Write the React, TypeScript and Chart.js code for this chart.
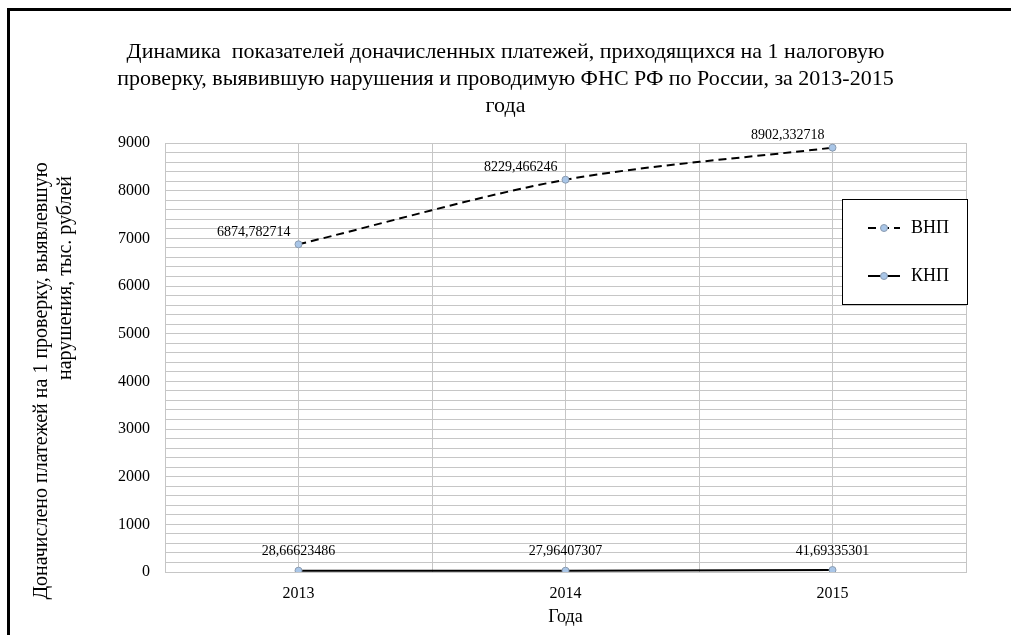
import React, { useEffect, useRef } from "react";
import { Chart, registerables } from "chart.js";

Chart.register(...registerables);

const categories = ["2013", "2014", "2015"];
const vnpValues = [6874.782714, 8229.466246, 8902.332718];
const knpValues = [28.66623486, 27.96407307, 41.69335301];
const seriesNames = ["ВНП", "КНП"];
const titleLines = [
  "Динамика  показателей доначисленных платежей, приходящихся на 1 налоговую",
  "проверку, выявившую нарушения и проводимую ФНС РФ по России, за 2013-2015",
  "года",
];
const yTitleLines = ["Доначислено платежей на 1 проверку, выявлевшую", "нарушения, тыс. рублей"];
const xTitle = "Года";
const yMin = 0;
const yMax = 9000;
const yMajorStep = 1000;
const yMinorStep = 200;

const FONT = "'Liberation Serif', 'Times New Roman', serif";
const POINT_FILL = "#a9c6e8";
const POINT_BORDER = "#8a9bb0";
const GRID = "#c6c6c6";

const fmt = (v: number) => String(v).replace(".", ",");

const decorPlugin = {
  id: "decor",
  afterDraw(chart: any) {
    const ctx = chart.ctx as CanvasRenderingContext2D;
    const area = chart.chartArea;
    ctx.save();
    // Title
    ctx.fillStyle = "#000";
    ctx.textAlign = "center";
    ctx.textBaseline = "middle";
    ctx.font = `22px ${FONT}`;
    const cx = chart.width / 2;
    titleLines.forEach((t, i) => ctx.fillText(t, cx, 52 + i * 27));

    // Y title (rotated)
    ctx.font = `20px ${FONT}`;
    ctx.save();
    ctx.translate(42, 381);
    ctx.rotate(-Math.PI / 2);
    ctx.fillText(yTitleLines[0], 0, 0);
    ctx.restore();
    ctx.save();
    ctx.translate(66, 278);
    ctx.rotate(-Math.PI / 2);
    ctx.fillText(yTitleLines[1], 0, 0);
    ctx.restore();

    // X title
    ctx.font = `18px ${FONT}`;
    ctx.fillText(xTitle, (area.left + area.right) / 2, 617);

    // Data labels
    ctx.font = `14px ${FONT}`;
    chart.data.datasets.forEach((ds: any, di: number) => {
      const meta = chart.getDatasetMeta(di);
      meta.data.forEach((pt: any, i: number) => {
        const v = ds.data[i].y;
        if (di === 0) {
          ctx.textAlign = "right";
          ctx.fillText(fmt(v), pt.x - 8, pt.y - 12);
        } else {
          ctx.textAlign = "center";
          ctx.fillText(fmt(v), pt.x, pt.y - 19);
        }
      });
    });

    // Legend
    const lx = area.right - 124;
    const ly = area.top + 56;
    const lw = 125;
    const lh = 105;
    ctx.fillStyle = "#fff";
    ctx.fillRect(lx, ly, lw, lh);
    ctx.strokeStyle = "#000";
    ctx.lineWidth = 1;
    ctx.strokeRect(lx + 0.5, ly + 0.5, lw, lh);
    chart.data.datasets.forEach((ds: any, di: number) => {
      const y = ly + 29 + di * 48;
      const x0 = lx + 26;
      const x1 = lx + 58;
      ctx.strokeStyle = "#000";
      ctx.lineWidth = 2;
      ctx.setLineDash(ds.borderDash || []);
      ctx.beginPath();
      ctx.moveTo(x0, y);
      ctx.lineTo(x1, y);
      ctx.stroke();
      ctx.setLineDash([]);
      ctx.beginPath();
      ctx.arc((x0 + x1) / 2, y, 3.5, 0, Math.PI * 2);
      ctx.fillStyle = POINT_FILL;
      ctx.fill();
      ctx.lineWidth = 1;
      ctx.strokeStyle = POINT_BORDER;
      ctx.stroke();
      ctx.fillStyle = "#000";
      ctx.font = `18px ${FONT}`;
      ctx.textAlign = "left";
      ctx.fillText(ds.label, lx + 69, y);
    });
    ctx.restore();
  },
};

export default function App() {
  const ref = useRef<HTMLCanvasElement | null>(null);
  useEffect(() => {
    if (!ref.current) return;
    const chart = new Chart(ref.current, {
      type: "line",
      data: {
        datasets: [
          {
            label: seriesNames[0],
            data: vnpValues.map((v, i) => ({ x: i, y: v })),
            borderColor: "#000",
            borderWidth: 2,
            borderDash: [8, 5],
            tension: 0.3,
            pointRadius: 3.5,
            pointBackgroundColor: POINT_FILL,
            pointBorderColor: POINT_BORDER,
            pointBorderWidth: 1,
            fill: false,
          },
          {
            label: seriesNames[1],
            data: knpValues.map((v, i) => ({ x: i, y: v })),
            borderColor: "#000",
            borderWidth: 2,
            tension: 0,
            pointRadius: 3.5,
            pointBackgroundColor: POINT_FILL,
            pointBorderColor: POINT_BORDER,
            pointBorderWidth: 1,
            fill: false,
          },
        ],
      },
      options: {
        animation: false,
        responsive: false,
        layout: { padding: { left: 0, top: 143, right: 45, bottom: 0 } },
        plugins: {
          legend: { display: false },
          tooltip: { enabled: false },
          title: { display: false },
        },
        scales: {
          x: {
            type: "linear",
            min: -0.5,
            max: categories.length - 0.5,
            afterFit: (s: any) => {
              s.height = 63;
            },
            afterBuildTicks: (s: any) => {
              const t = [];
              for (let v = -0.5; v <= categories.length - 0.5 + 1e-9; v += 0.5) t.push({ value: v });
              s.ticks = t;
            },
            ticks: {
              autoSkip: false,
              maxRotation: 0,
              padding: 12,
              color: "#000",
              font: { family: FONT, size: 16 },
              callback: (v: any) => (Number.isInteger(v) ? categories[v] : ""),
            },
            grid: { color: GRID, drawTicks: false, lineWidth: 1 },
            border: { color: GRID, width: 1 },
          },
          y: {
            min: yMin,
            max: yMax,
            afterFit: (s: any) => {
              s.width = 165;
            },
            afterBuildTicks: (s: any) => {
              const t = [];
              for (let v = yMin; v <= yMax; v += yMinorStep) t.push({ value: v });
              s.ticks = t;
            },
            ticks: {
              autoSkip: false,
              padding: 15,
              color: "#000",
              font: { family: FONT, size: 16 },
              callback: (v: any) => (v % yMajorStep === 0 ? String(v) : ""),
            },
            grid: { color: GRID, drawTicks: false, lineWidth: 1 },
            border: { color: GRID, width: 1 },
          },
        },
      },
      plugins: [decorPlugin],
    });
    return () => chart.destroy();
  }, []);

  return (
    <div style={{ position: "absolute", left: 0, top: 0, width: 1011, height: 635, overflow: "hidden", background: "#fff" }}>
      <div
        style={{
          position: "absolute",
          left: 7,
          top: 8,
          width: 1011,
          height: 635,
          borderLeft: "3px solid #000",
          borderTop: "3px solid #000",
          boxSizing: "border-box",
        }}
      />
      <canvas ref={ref} width={1011} height={635} style={{ position: "absolute", left: 0, top: 0 }} />
    </div>
  );
}
